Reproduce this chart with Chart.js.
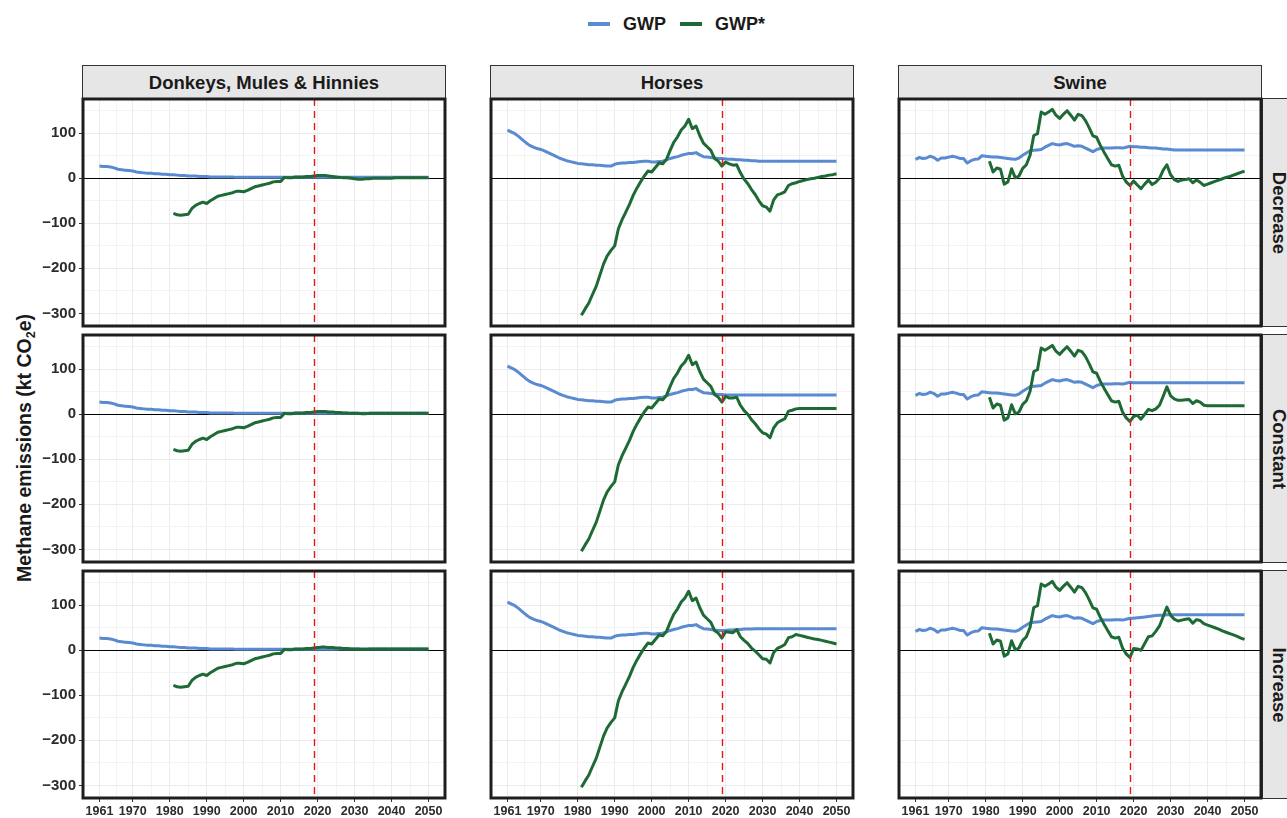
<!DOCTYPE html>
<html>
<head>
<meta charset="utf-8">
<title>Methane emissions: GWP vs GWP*</title>
<script src="https://cdn.jsdelivr.net/npm/chart.js@4.4.1/dist/chart.umd.min.js"></script>
<style>
  html, body { margin: 0; padding: 0; background: #ffffff; }
  body {
    width: 1287px; height: 818px; position: relative; overflow: hidden;
    font-family: 'Liberation Sans', Arial, Helvetica, sans-serif;
    font-weight: bold; color: #1a1a1a;
  }
  canvas { position: absolute; }
  .strip {
    position: absolute; box-sizing: border-box;
    background: #e6e6e6; border: 1px solid #333333;
    display: flex; align-items: center; justify-content: center;
    font-size: 18.5px; color: #1a1a1a; white-space: nowrap;
  }
  .strip.side span { display: inline-block; transform: rotate(90deg); }
  #legend {
    position: absolute; top: 12px; left: 588px; height: 24px;
    display: flex; align-items: center;
    font-size: 18px; white-space: nowrap;
  }
  #legend .key { width: 22px; height: 4px; margin-right: 13px; }
  #legend .lab { margin-right: 14px; }
  #ytitle {
    position: absolute; left: 25px; top: 448px;
    transform: translate(-50%, -50%) rotate(-90deg);
    font-size: 19.5px; white-space: nowrap;
  }
  #ytitle sub { font-size: 12.5px; vertical-align: -4px; }
</style>
</head>
<body>
<div id="legend"></div>
<div id="ytitle">Methane emissions (kt CO<sub>2</sub>e)</div>

<script>
// ---------------------------------------------------------------
// Facets and series
// ---------------------------------------------------------------
const ANIMALS   = ['Donkeys, Mules & Hinnies', 'Horses', 'Swine'];
const SCENARIOS = ['Decrease', 'Constant', 'Increase'];
const SERIES_NAMES = ['GWP', 'GWP*'];

const GWP_START  = 1961;   // first year of GWP series
const STAR_START = 1981;   // first year of GWP* series (needs 20-year history)
const REF_YEAR   = 2019;   // last observed year, marked with a dashed line

const X_TICKS = [1961, 1970, 1980, 1990, 2000, 2010, 2020, 2030, 2040, 2050];
const X_MINOR = [1965.5, 1975, 1985, 1995, 2005, 2015, 2025, 2035, 2045];
const Y_TICKS = [-300, -200, -100, 0, 100];
const Y_MINOR = [-250, -150, -50, 50, 150];

// ---------------------------------------------------------------
// Donkeys, Mules & Hinnies (kt CO2e)
// ---------------------------------------------------------------
const donkeyGwpHist = [
  27, 26, 26, 25, 23, 20, 19, 18, 17, 16,
  14, 13, 12, 11, 11, 10, 10, 9, 9, 8,
  8, 7, 6, 6, 5, 5, 5, 4, 4, 4,
  3, 3, 3, 3, 3, 3, 3, 2, 2, 2,
  2, 2, 2, 2, 2, 2, 2, 2, 2, 2,
  2, 2, 2, 2, 2, 2, 2, 2, 2
];
const donkeyGwpDecrease = [2, 2, 2, 2, 2, 2, 2, 2, 2, 2, 2, 2, 2, 2, 2, 2, 2, 2, 2, 2, 2, 2, 2, 2, 2, 2, 2, 2, 2, 2, 2];
const donkeyGwpConstant = [2, 2, 2, 2, 2, 2, 2, 2, 2, 2, 2, 2, 2, 2, 2, 2, 2, 2, 2, 2, 2, 2, 2, 2, 2, 2, 2, 2, 2, 2, 2];
const donkeyGwpIncrease = [2, 2, 2, 2, 2, 2, 3, 3, 3, 3, 3, 3, 3, 3, 3, 3, 3, 3, 3, 3, 3, 3, 3, 3, 3, 3, 3, 3, 3, 3, 3];

const donkeyStarHist = [
  -78, -81, -82, -81, -80, -67, -60, -56, -53, -56,
  -50, -45, -40, -38, -36, -34, -32, -29, -29, -30,
  -27, -23, -19, -17, -15, -13, -11, -8, -7, -7,
  2, 1, 1, 3, 3, 3, 4, 4, 5
];
const donkeyStarDecrease = [6, 6, 6, 5, 4, 3, 2, 1, 1, 0, -1, -2, -2, -1, -1, 0, 0, 0, 0, 0, 0, 1, 1, 1, 1, 1, 1, 1, 1, 1, 1];
const donkeyStarConstant = [6, 6, 6, 5, 5, 4, 4, 3, 3, 2, 2, 2, 1, 1, 2, 2, 2, 2, 2, 2, 2, 2, 2, 2, 2, 2, 2, 2, 2, 2, 2];
const donkeyStarIncrease = [6, 7, 7, 6, 6, 5, 5, 4, 4, 3, 3, 3, 2, 2, 3, 3, 3, 3, 3, 3, 3, 3, 3, 3, 3, 3, 3, 3, 3, 3, 3];

// ---------------------------------------------------------------
// Horses (kt CO2e)
// ---------------------------------------------------------------
const horseGwpHist = [
  107, 103, 99, 93, 86, 79, 73, 69, 66, 64,
  61, 57, 53, 49, 45, 42, 39, 37, 35, 33,
  32, 31, 30, 30, 29, 29, 28, 27, 27, 31,
  33, 34, 34, 35, 35, 36, 37, 38, 38, 36,
  36, 37, 38, 41, 44, 46, 48, 51, 53, 55,
  55, 57, 52, 48, 47, 46, 45, 44, 44
];
const horseGwpDecrease = [43, 42, 42, 41, 41, 40, 40, 39, 39, 38, 38, 38, 38, 38, 38, 38, 38, 38, 38, 38, 38, 38, 38, 38, 38, 38, 38, 38, 38, 38, 38];
const horseGwpConstant = [43, 43, 43, 43, 43, 43, 43, 43, 43, 43, 43, 43, 43, 43, 43, 43, 43, 43, 43, 43, 43, 43, 43, 43, 43, 43, 43, 43, 43, 43, 43];
const horseGwpIncrease = [44, 45, 45, 46, 46, 47, 47, 47, 48, 48, 48, 48, 48, 48, 48, 48, 48, 48, 48, 48, 48, 48, 48, 48, 48, 48, 48, 48, 48, 48, 48];

const horseStarHist = [
  -304, -290, -277, -258, -240, -215, -190, -172, -160, -150,
  -112, -92, -75, -58, -38, -22, -8, 5, 16, 14,
  24, 34, 32, 42, 62, 80, 92, 107, 116, 131,
  110, 116, 95, 78, 70, 62, 44, 38, 27
];
const horseStarDecrease = [36, 32, 29, 30, 12, -2, -12, -25, -36, -50, -61, -64, -73, -48, -37, -34, -30, -16, -12, -10, -7, -5, -3, -1, 0, 2, 4, 5, 7, 8, 10];
const horseStarConstant = [40, 36, 36, 38, 20, 8, 0, -12, -21, -32, -41, -44, -52, -30, -19, -14, -10, 7, 9, 12, 13, 13, 13, 13, 13, 13, 13, 13, 13, 13, 13];
const horseStarIncrease = [41, 40, 39, 46, 30, 22, 15, 5, -2, -10, -19, -20, -28, -5, 4, 8, 13, 28, 30, 35, 33, 31, 29, 27, 25, 24, 22, 20, 18, 16, 14];

// ---------------------------------------------------------------
// Swine (kt CO2e)
// ---------------------------------------------------------------
const swineGwpHist = [
  42, 46, 44, 45, 49, 46, 40, 45, 45, 47,
  49, 47, 44, 44, 34, 39, 42, 43, 50, 49,
  48, 47, 47, 46, 45, 44, 43, 42, 45, 51,
  56, 61, 62, 63, 64, 69, 73, 77, 75, 74,
  76, 77, 74, 71, 72, 71, 67, 63, 59, 64,
  66, 67, 67, 67, 68, 68, 67, 69, 71
];
const swineGwpDecrease = [70, 70, 69, 69, 68, 67, 67, 66, 65, 65, 64, 63, 63, 63, 63, 63, 63, 63, 63, 63, 63, 63, 63, 63, 63, 63, 63, 63, 63, 63, 63];
const swineGwpConstant = [70, 70, 70, 70, 70, 70, 70, 70, 70, 70, 70, 70, 70, 70, 70, 70, 70, 70, 70, 70, 70, 70, 70, 70, 70, 70, 70, 70, 70, 70, 70];
const swineGwpIncrease = [71, 72, 73, 74, 75, 76, 77, 78, 78, 79, 79, 79, 79, 79, 79, 79, 79, 79, 79, 79, 79, 79, 79, 79, 79, 79, 79, 79, 79, 79, 79];

const swineStarHist = [
  38, 14, 23, 20, -13, -8, 21, 1, 5, 22,
  30, 51, 95, 99, 147, 142, 147, 153, 140, 133,
  142, 150, 140, 129, 142, 139, 128, 112, 94, 91,
  73, 58, 44, 30, 27, 29, 5, -8, -16
];
const swineStarDecrease = [-6, -15, -23, -13, -4, -14, -9, 0, 18, 30, 8, -3, -7, -4, -3, -1, -10, -4, -9, -16, -13, -10, -7, -4, -1, 2, 4, 7, 10, 13, 16];
const swineStarConstant = [-5, -2, -11, 0, 11, 8, 12, 20, 40, 61, 41, 34, 31, 31, 32, 33, 24, 30, 27, 20, 19, 19, 19, 19, 19, 19, 19, 19, 19, 19, 19];
const swineStarIncrease = [4, 3, 0, 15, 30, 32, 42, 54, 75, 96, 78, 69, 65, 67, 69, 70, 60, 68, 66, 59, 56, 53, 50, 47, 43, 40, 37, 34, 31, 27, 24];

// Lookup table assembled from the arrays above
const SERIES = {
  'Donkeys, Mules & Hinnies': {
    gwpHist: donkeyGwpHist, starHist: donkeyStarHist,
    gwp:  { Decrease: donkeyGwpDecrease,  Constant: donkeyGwpConstant,  Increase: donkeyGwpIncrease },
    star: { Decrease: donkeyStarDecrease, Constant: donkeyStarConstant, Increase: donkeyStarIncrease }
  },
  'Horses': {
    gwpHist: horseGwpHist, starHist: horseStarHist,
    gwp:  { Decrease: horseGwpDecrease,  Constant: horseGwpConstant,  Increase: horseGwpIncrease },
    star: { Decrease: horseStarDecrease, Constant: horseStarConstant, Increase: horseStarIncrease }
  },
  'Swine': {
    gwpHist: swineGwpHist, starHist: swineStarHist,
    gwp:  { Decrease: swineGwpDecrease,  Constant: swineGwpConstant,  Increase: swineGwpIncrease },
    star: { Decrease: swineStarDecrease, Constant: swineStarConstant, Increase: swineStarIncrease }
  }
};

// ---------------------------------------------------------------
// Styling and layout
// ---------------------------------------------------------------
const COLORS = { 'GWP': '#5a8ad0', 'GWP*': '#1d6a35' };
const FONT = "'Liberation Sans', Arial, Helvetica, sans-serif";

const X_MIN = 1961 - 0.05 * 89, X_MAX = 2050 + 0.05 * 89;
const Y_MIN = -328, Y_MAX = 176;

const PANEL_LEFT = [83, 491, 899];
const PANEL_TOP  = [99, 335, 571];
const PANEL_W = 362, PANEL_H = 227;

const fmtNum = v => (v < 0 ? '\u2212' + Math.abs(v) : String(v));
const toPoints = (start, values) => values.map((v, i) => ({ x: start + i, y: v }));

// Zero line below the series, reference year and panel frame above them
const panelDecor = {
  id: 'panelDecor',
  beforeDatasetsDraw(chart) {
    const { ctx, chartArea: a, scales: { y } } = chart;
    const y0 = Math.round(y.getPixelForValue(0)) + 0.5;
    ctx.save();
    ctx.strokeStyle = '#000000';
    ctx.lineWidth = 1.2;
    ctx.beginPath(); ctx.moveTo(a.left, y0); ctx.lineTo(a.right, y0); ctx.stroke();
    ctx.restore();
  },
  afterDatasetsDraw(chart) {
    const { ctx, chartArea: a, scales: { x } } = chart;
    const xr = Math.round(x.getPixelForValue(REF_YEAR)) + 0.5;
    ctx.save();
    ctx.strokeStyle = '#e3161b';
    ctx.lineWidth = 1.4;
    ctx.setLineDash([7, 5]);
    ctx.beginPath(); ctx.moveTo(xr, a.top); ctx.lineTo(xr, a.bottom); ctx.stroke();
    ctx.setLineDash([]);
    ctx.strokeStyle = '#1e1e1e';
    ctx.lineWidth = 3;
    ctx.strokeRect(a.left, a.top, a.right - a.left, a.bottom - a.top);
    ctx.restore();
  }
};

function buildPanel(row, col) {
  const animal = ANIMALS[col], scen = SCENARIOS[row], src = SERIES[animal];
  const showY = col === 0, showX = row === SCENARIOS.length - 1;
  const L = showY ? 80 : 6, R = 6, T = 6, B = showX ? 30 : 6;

  const canvas = document.createElement('canvas');
  canvas.width = L + PANEL_W + R;
  canvas.height = T + PANEL_H + B;
  canvas.style.left = (PANEL_LEFT[col] - L) + 'px';
  canvas.style.top = (PANEL_TOP[row] - T) + 'px';
  document.body.appendChild(canvas);

  const gwpPts  = toPoints(GWP_START,  src.gwpHist.concat(src.gwp[scen]));
  const starPts = toPoints(STAR_START, src.starHist.concat(src.star[scen]));

  const gridColor = c => (c.tick && c.tick.major) ? '#ebebeb' : '#f3f3f3';
  const tickColor = c => (c.tick && c.tick.major) ? '#333333' : 'rgba(0,0,0,0)';

  new Chart(canvas, {
    type: 'line',
    data: {
      datasets: [
        { label: SERIES_NAMES[0], data: gwpPts,  borderColor: COLORS['GWP'],  order: 2 },
        { label: SERIES_NAMES[1], data: starPts, borderColor: COLORS['GWP*'], order: 1 }
      ]
    },
    options: {
      responsive: false,
      animation: false,
      devicePixelRatio: 1,
      layout: { padding: { top: T, right: R, left: 0, bottom: 0 }, autoPadding: false },
      plugins: { legend: { display: false }, tooltip: { enabled: false } },
      elements: {
        point: { radius: 0, hoverRadius: 0 },
        line: { tension: 0, borderWidth: 3, borderJoinStyle: 'round', borderCapStyle: 'butt', fill: false }
      },
      scales: {
        x: {
          type: 'linear', min: X_MIN, max: X_MAX,
          afterFit: s => { s.height = B; s.paddingLeft = 0; s.paddingRight = 0; },
          afterBuildTicks: s => {
            s.ticks = X_TICKS.map(v => ({ value: v, major: true }))
              .concat(X_MINOR.map(v => ({ value: v, major: false })))
              .sort((p, q) => p.value - q.value);
          },
          border: { display: false },
          grid: {
            color: gridColor, lineWidth: 1,
            drawTicks: showX, tickLength: 4, tickColor: tickColor, tickWidth: 1
          },
          ticks: {
            display: showX, autoSkip: false, maxRotation: 0, minRotation: 0, padding: 2,
            color: '#2b2b2b', font: { family: FONT, weight: 'bold', size: 12.5 },
            callback: v => (X_TICKS.includes(v) ? String(v) : '')
          }
        },
        y: {
          type: 'linear', min: Y_MIN, max: Y_MAX,
          afterFit: s => { s.width = L; s.paddingTop = 0; s.paddingBottom = 0; },
          afterBuildTicks: s => {
            s.ticks = Y_TICKS.map(v => ({ value: v, major: true }))
              .concat(Y_MINOR.map(v => ({ value: v, major: false })))
              .sort((p, q) => p.value - q.value);
          },
          border: { display: false },
          grid: {
            color: gridColor, lineWidth: 1,
            drawTicks: showY, tickLength: 4, tickColor: tickColor, tickWidth: 1
          },
          ticks: {
            display: showY, autoSkip: false, padding: 3,
            color: '#2b2b2b', font: { family: FONT, weight: 'bold', size: 15 },
            callback: v => (Y_TICKS.includes(v) ? fmtNum(v) : '')
          }
        }
      }
    },
    plugins: [panelDecor]
  });
}

// Facet strips
function addStrip(text, left, top, width, height, side) {
  const d = document.createElement('div');
  d.className = 'strip' + (side ? ' side' : '');
  d.style.left = left + 'px';
  d.style.top = top + 'px';
  d.style.width = width + 'px';
  d.style.height = height + 'px';
  const s = document.createElement('span');
  s.textContent = text;
  d.appendChild(s);
  document.body.appendChild(d);
}

ANIMALS.forEach((name, c) => addStrip(name, PANEL_LEFT[c] - 1, 65, PANEL_W + 2, 35, false));
SCENARIOS.forEach((name, r) => addStrip(name, PANEL_LEFT[2] + PANEL_W + 1, PANEL_TOP[r] - 1, 34, PANEL_H + 2, true));

// Legend
const legend = document.getElementById('legend');
SERIES_NAMES.forEach(name => {
  const k = document.createElement('span');
  k.className = 'key';
  k.style.background = COLORS[name];
  const t = document.createElement('span');
  t.className = 'lab';
  t.textContent = name;
  legend.appendChild(k);
  legend.appendChild(t);
});

for (let r = 0; r < SCENARIOS.length; r++) {
  for (let c = 0; c < ANIMALS.length; c++) buildPanel(r, c);
}
</script>
</body>
</html>
